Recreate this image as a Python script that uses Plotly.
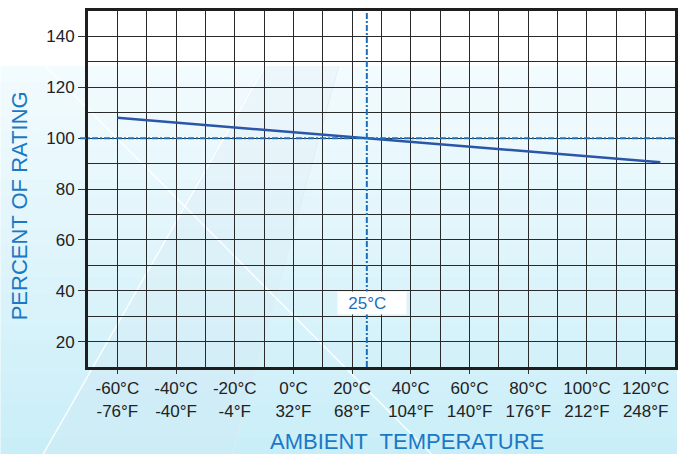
import plotly.graph_objects as go

# ---- data ----
temp_c = [-60, 125]
percent_rating = [108, 90.5]
x_tick_vals = [-60, -40, -20, 0, 20, 40, 60, 80, 100, 120]
x_tick_text = ["-60°C<br>-76°F", "-40°C<br>-40°F", "-20°C<br>-4°F", "0°C<br>32°F",
               "20°C<br>68°F", "40°C<br>104°F", "60°C<br>140°F", "80°C<br>176°F",
               "100°C<br>212°F", "120°C<br>248°F"]
y_tick_vals = [20, 40, 60, 80, 100, 120, 140]
ref_temp = 25
ref_rating = 100
ref_label = "25°C"

W, H = 680, 454
L, R, T, B = 88, 2, 11, 87
PW, PH = W - L - R, H - T - B


def px(x):
    return (x - L) / PW


def py(y):
    return (H - B - y) / PH


FONT = "Liberation Sans, Arial, sans-serif"
BLUE_TXT = "#1b78c6"

shapes = []
# white background band on top, gradient below (decorative)
n = 24
top_px, bot_px = 66, H
c0 = (242, 251, 254)
c1 = (202, 238, 248)
for i in range(n):
    y0 = top_px + (bot_px - top_px) * i / n
    y1 = top_px + (bot_px - top_px) * (i + 1) / n
    t = i / (n - 1)
    c = tuple(round(c0[k] + (c1[k] - c0[k]) * t) for k in range(3))
    shapes.append(dict(type="rect", xref="paper", yref="paper", layer="below",
                       x0=px(0), x1=px(W), y0=py(y1 + 0.5), y1=py(y0),
                       fillcolor="rgb(%d,%d,%d)" % c, line_width=0))
# faint lighter band
shapes.append(dict(type="path", xref="paper", yref="paper", layer="below",
                   path="M %f %f L %f %f L %f %f L %f %f Z" % (
                       px(264), py(66), px(340), py(66), px(233), py(454), px(43), py(454)),
                   fillcolor="rgba(215,228,238,0.18)", line_width=0))
shapes.append(dict(type="line", xref="paper", yref="paper", layer="below",
                   x0=px(266), y0=py(66), x1=px(43), y1=py(454),
                   line=dict(color="rgba(255,255,255,0.9)", width=1.5)))
shapes.append(dict(type="line", xref="paper", yref="paper", layer="below",
                   x0=px(45), y0=py(66), x1=px(433), y1=py(454),
                   line=dict(color="rgba(255,255,255,0.9)", width=1.5)))
shapes.append(dict(type="line", xref="paper", yref="paper", layer="below",
                   x0=px(340), y0=py(66), x1=px(233), y1=py(454),
                   line=dict(color="rgba(225,235,245,0.8)", width=1)))

# reference lines
ref_line = dict(color="#1a6fbf", width=2, dash="6px,2px,2px,2px")
shapes.append(dict(type="line", xref="paper", yref="y", x0=px(80), x1=1,
                   y0=ref_rating, y1=ref_rating, line=ref_line, layer="above"))
shapes.append(dict(type="line", xref="x", yref="paper", x0=ref_temp, x1=ref_temp,
                   y0=0, y1=1, line=ref_line, layer="above"))

fig = go.Figure()
fig.add_trace(go.Scatter(x=temp_c, y=percent_rating, mode="lines",
                         line=dict(color="#2b55a8", width=2.5),
                         hoverinfo="skip", showlegend=False))

axis_common = dict(showline=True, mirror=True, linecolor="#1e1e1e", linewidth=3,
                   showgrid=True, gridcolor="#2a2a2a", gridwidth=1, zeroline=False,
                   ticks="outside", tickcolor="#333333",
                   tickfont=dict(family=FONT, size=17, color="#222222"))

fig.update_layout(
    width=W, height=H,
    margin=dict(l=L, r=R, t=T, b=B),
    paper_bgcolor="white",
    plot_bgcolor="rgba(0,0,0,0)",
    shapes=shapes,
    xaxis=dict(range=[-70, 130], tickmode="array", tickvals=x_tick_vals,
               ticktext=x_tick_text, ticklen=4, tickwidth=1,
               minor=dict(dtick=10, tick0=0, showgrid=True, gridcolor="#2a2a2a",
                          gridwidth=1, ticks=""),
               **axis_common),
    yaxis=dict(range=[10, 150], tickmode="array", tickvals=y_tick_vals,
               ticklen=7, tickwidth=1,
               minor=dict(dtick=10, tick0=0, showgrid=True, gridcolor="#2a2a2a",
                          gridwidth=1, ticks=""),
               **axis_common),
    annotations=[
        dict(x=ref_temp, y=35, xref="x", yref="y", text=ref_label + "\u00a0\u00a0",
             showarrow=False, xshift=5,
             bgcolor="white", width=66, height=20, xanchor="center", yanchor="middle",
             font=dict(family=FONT, size=17, color="#1a6fbf")),
        dict(x=px(20), y=py(206), xref="paper", yref="paper", text="PERCENT OF RATING",
             textangle=-90, showarrow=False, xanchor="center", yanchor="middle",
             font=dict(family=FONT, size=22, color=BLUE_TXT)),
        dict(x=px(409), y=py(441), xref="paper", yref="paper",
             text="AMBIENT\u00a0 TEMPERATURE", showarrow=False,
             xanchor="center", yanchor="middle",
             font=dict(family=FONT, size=22, color=BLUE_TXT)),
    ],
)

fig.write_html("out.html", config={"displayModeBar": False},
               post_script="document.body.style.margin='0';document.body.style.overflow='hidden';")
